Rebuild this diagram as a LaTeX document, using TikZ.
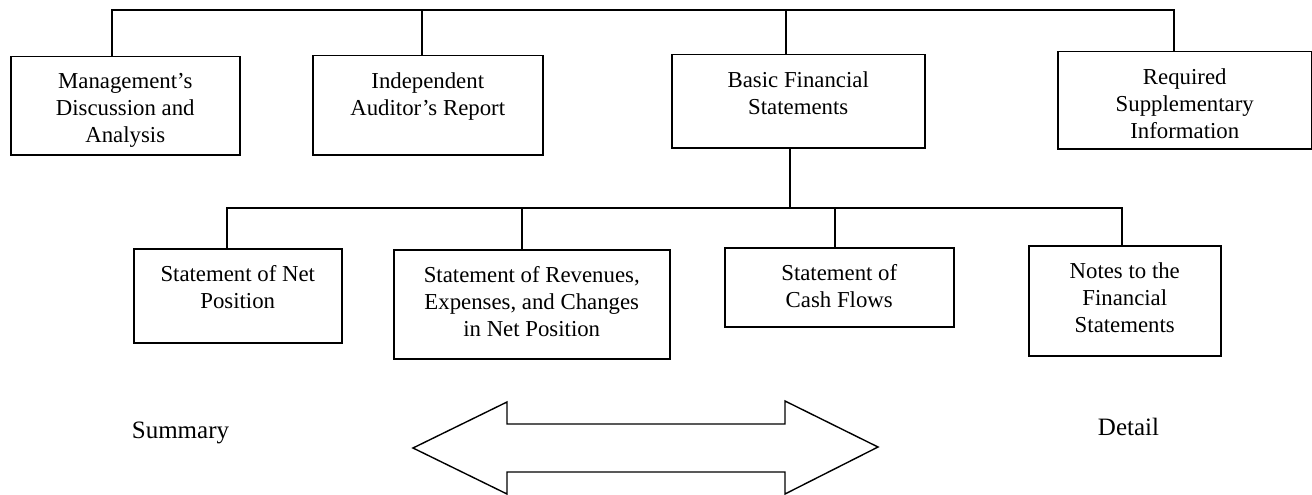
\documentclass[tikz,border=0pt]{standalone}
\usepackage{fontspec}
\setmainfont{Liberation Serif}
\begin{document}
\begin{tikzpicture}[x=1pt,y=1pt,
  box/.style={draw, line width=1.5pt, anchor=north west, inner sep=0pt},
  lbl/.style={font=\fontsize{22.8}{27}\selectfont, align=center, inner sep=0pt, anchor=north},
  side/.style={font=\fontsize{25}{30}\selectfont, inner sep=0pt, anchor=base},
  conn/.style={line width=1.5pt, line join=miter},
  bigarrow/.style={draw, line width=1.4pt, line join=miter}]
\useasboundingbox (0,0) rectangle (1312,-495);

% top-level boxes
\node[box, minimum width=229pt, minimum height=98pt] (mda) at (10,-56) {};
\node[box, minimum width=230pt, minimum height=99pt] (iar) at (312,-55) {};
\node[box, minimum width=253pt, minimum height=93pt] (bfs) at (671,-54) {};
\node[box, minimum width=254pt, minimum height=97pt] (rsi) at (1057,-51) {};

\node[lbl] (mdat) at ([yshift=-17pt]mda.north) {Management’s\\Discussion and\\Analysis};
\node[lbl] (iart) at ([yshift=-17pt]iar.north) {Independent\\Auditor’s Report};
\node[lbl] (bfst) at ([yshift=-17pt]bfs.north) {Basic Financial\\Statements};
\node[lbl] (rsit) at ([yshift=-17pt]rsi.north) {Required\\Supplementary\\Information};

% second-level boxes
\node[box, minimum width=208pt, minimum height=94pt] (snp) at (133,-248) {};
\node[box, minimum width=276pt, minimum height=109pt] (srev) at (393,-249) {};
\node[box, minimum width=229pt, minimum height=79pt] (scf) at (724,-247) {};
\node[box, minimum width=192pt, minimum height=110pt] (ntfs) at (1028,-245) {};

\node[lbl] (snpt) at ([yshift=-17pt]snp.north) {Statement of Net\\Position};
\node[lbl] (srevt) at ([yshift=-17pt]srev.north) {Statement of Revenues,\\Expenses, and Changes\\in Net Position};
\node[lbl] (scft) at ([yshift=-17pt]scf.north) {Statement of\\Cash Flows};
\node[lbl] (ntfst) at ([yshift=-17pt]ntfs.north) {Notes to the\\Financial\\Statements};

% top bus
\coordinate (t1) at (112,-10);
\coordinate (t2) at (422,-10);
\coordinate (t3) at (786,-10);
\coordinate (t4) at (1174,-10);
\draw[conn] (t1 |- mda.north) -- (t1) -- (t4) -- (t4 |- rsi.north);
\draw[conn] (t2) -- (t2 |- iar.north);
\draw[conn] (t3) -- (t3 |- bfs.north);

% second bus
\coordinate (b0) at (790,-208);
\coordinate (b1) at (227,-208);
\coordinate (b2) at (522,-208);
\coordinate (b3) at (835,-208);
\coordinate (b4) at (1122,-208);
\draw[conn] (b0 |- bfs.south) -- (b0);
\draw[conn] (b1 |- snp.north) -- (b1) -- (b4) -- (b4 |- ntfs.north);
\draw[conn] (b2) -- (b2 |- srev.north);
\draw[conn] (b3) -- (b3 |- scf.north);

% side labels
\node[side] (sum) at (180.5,-438) {Summary};
\node[side] (det) at (1128.5,-435) {Detail};

% double arrow
\draw[bigarrow] (413,-448) -- (507,-402) -- (507,-424) -- (785,-424) -- (785,-401)
  -- (878,-447) -- (785,-494) -- (785,-472) -- (507,-472) -- (507,-494) -- cycle;
\end{tikzpicture}
\end{document}
